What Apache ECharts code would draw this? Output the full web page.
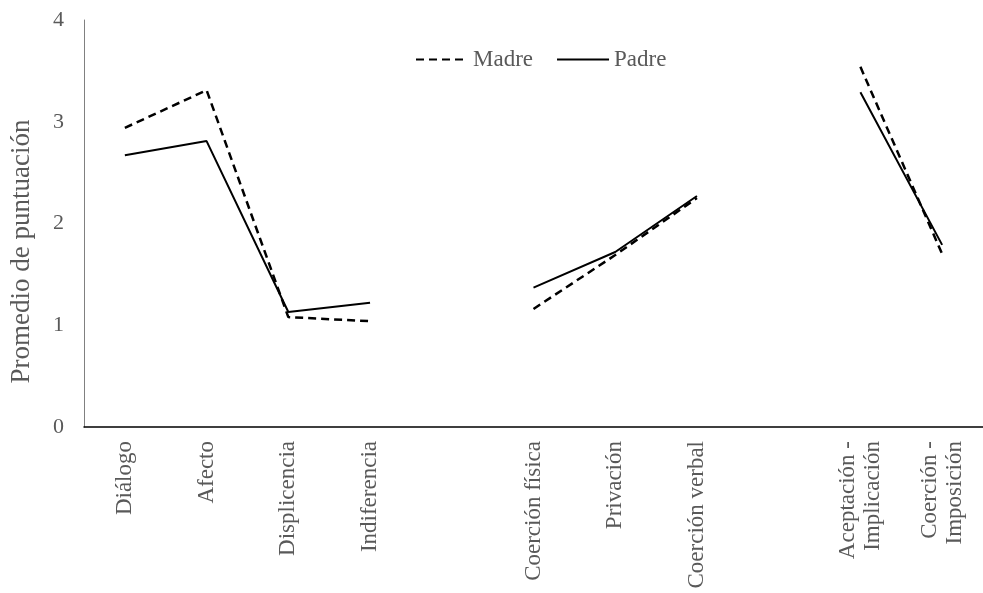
<!DOCTYPE html>
<html>
<head>
<meta charset="utf-8">
<script src="https://cdn.jsdelivr.net/npm/echarts@6/dist/echarts.min.js"></script>
<style>html,body{margin:0;padding:0;background:#fff;}#c{width:983px;height:593px;}</style>
</head>
<body>
<div id="c"></div>
<script>
const categories = ['Diálogo', 'Afecto', 'Displicencia', 'Indiferencia', '', 'Coerción física', 'Privación', 'Coerción verbal', '', 'Aceptación -\nImplicación', 'Coerción -\nImposición'];
const madre = [2.94, 3.31, 1.08, 1.04, null, 1.16, 1.69, 2.25, null, 3.54, 1.70];
const padre = [2.67, 2.81, 1.13, 1.22, null, 1.37, 1.72, 2.27, null, 3.29, 1.79];
const yTicks = [0, 1, 2, 3, 4];

const chart = echarts.init(document.getElementById('c'), null, {renderer: 'canvas'});
const font = '"Liberation Serif", "Times New Roman", serif';
const gray = '#595959';
chart.setOption({
  animation: false,
  textStyle: {fontFamily: font},
  legend: {
    left: 410, top: 43,
    itemWidth: 52, itemHeight: 20, itemGap: 23,
    itemStyle: {opacity: 0},
    textStyle: {fontFamily: font, fontSize: 23, color: gray},
    data: ['Madre', 'Padre']
  },
  grid: {left: 83, top: 20, width: 909, height: 407},
  xAxis: {
    type: 'category',
    data: categories,
    boundaryGap: true,
    axisLine: {lineStyle: {color: '#000', width: 1.5}},
    axisTick: {show: false},
    axisLabel: {rotate: 90, margin: 14, interval: 0, fontFamily: font, fontSize: 23, color: gray, lineHeight: 25}
  },
  yAxis: {
    type: 'value',
    min: yTicks[0], max: yTicks[yTicks.length - 1], interval: 1,
    name: 'Promedio de puntuación',
    nameLocation: 'middle', nameGap: 49,
    nameTextStyle: {fontFamily: font, fontSize: 27, color: gray, padding: [0, 56, 0, 0]},
    axisLine: {show: true, lineStyle: {color: '#808080', width: 1}},
    axisTick: {show: false},
    splitLine: {show: false},
    axisLabel: {margin: 20, fontFamily: font, fontSize: 22, color: gray}
  },
  series: [
    {name: 'Madre', type: 'line', data: madre, symbol: 'none', connectNulls: false,
     lineStyle: {color: '#000', width: 2.5, type: [8, 5]}, itemStyle: {color: '#000'}},
    {name: 'Padre', type: 'line', data: padre, symbol: 'none', connectNulls: false,
     lineStyle: {color: '#000', width: 2}, itemStyle: {color: '#000'}}
  ]
});
</script>
</body>
</html>
